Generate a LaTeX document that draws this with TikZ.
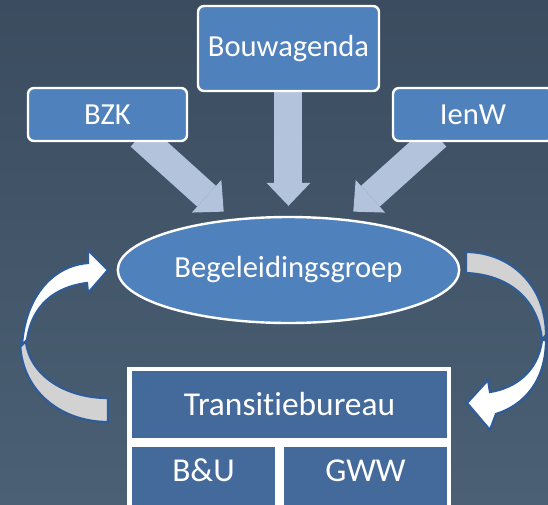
\documentclass[tikz,border=0pt]{standalone}
\usepackage{fontspec}
\setmainfont{Carlito}[Ligatures = NoCommon]
\usetikzlibrary{shapes.geometric, arrows.meta, backgrounds, calc}

\definecolor{boxblue}{HTML}{4F81BD}
\definecolor{darkblue}{HTML}{44699B}
\definecolor{arrowgrey}{HTML}{B4C3DC}
\definecolor{rimblue}{HTML}{2F5C96}
\definecolor{tailgrey}{HTML}{D2D2D2}
\definecolor{bgtop}{HTML}{3B4C5F}
\definecolor{bgbottom}{HTML}{4B6075}

\begin{document}
\begin{tikzpicture}
  [
    x = 0.5pt, y = -0.5pt,  % one unit is one pixel, y downwards
    every node/.style = {text = white, font = \fontsize{15.3}{18}\selectfont},
    topbox/.style = {draw = white, line width = 1.2pt, rounded corners = 3pt,
      fill = boxblue, minimum height = 26.5pt},
    lowbox/.style = {fill = darkblue, anchor = north, minimum height = 36pt,
      text height = 11pt, text depth = 13.25pt, font = \fontsize{16.7}{20}\selectfont},
    blockarrow/.style = {draw = arrowgrey, line width = 14pt,
      -{Triangle[width = 22pt, length = 11.5pt, line width = 0pt]}},
    tailpart/.style = {fill = tailgrey, draw = rimblue, line width = 1.1pt},
    headpart/.style = {fill = white, draw = rimblue, line width = 1.1pt}
  ]
  \useasboundingbox (0,0) rectangle (548,505);
  \clip (0,0) rectangle (548,505);

  \node[topbox, minimum width = 90.5pt, minimum height = 42.5pt] (bouw) at (288.5,48.5) {Bouwagenda};
  \node[topbox, minimum width = 79.5pt] (bzk) at (107.5,114.5) {BZK};
  \node[topbox, minimum width = 80pt] (ienw) at (473,114.5) {IenW};
  \node[ellipse, draw = white, line width = 1.2pt, fill = boxblue,
    minimum width = 169.5pt, minimum height = 53pt] (begel) at (288.5,270) {Begeleidingsgroep};

  \node[fill = white, anchor = north west, minimum width = 162pt, minimum height = 80pt] (tbframe) at (127,367) {};
  \node[fill = darkblue, minimum width = 157.5pt, minimum height = 33.5pt,
    font = \fontsize{16.7}{20}\selectfont] (trans) at (289.5,404.5) {Transitiebureau};
  \node[lowbox, minimum width = 71.5pt] (bu) at (203.5,447) {B\&U};
  \node[lowbox, minimum width = 81.5pt] (gww) at (365.5,447) {GWW};

  \begin{scope}[on background layer]
    \shade[top color = bgtop, bottom color = bgbottom] (0,0) rectangle (548,505);
    \draw[blockarrow, shorten >= 5pt] (bouw) -- (begel);
    \draw[blockarrow, shorten >= 5.4pt] ($(bzk.south)+(32.5,-6)$) -- (begel);
    \draw[blockarrow, shorten >= 5.4pt] ($(ienw.south)+(-36,-6)$) -- (begel);
  \end{scope}

  % cycle arrows
  \filldraw[tailpart] (108,398) -- (108,422) .. controls (60,422) and (20,390) .. (20,340)
    -- (26,342) .. controls (30,375) and (65,398) .. (108,398) -- cycle;
  \filldraw[headpart] (22,345) .. controls (25,300) and (50,266) .. (88,263) -- (88,250) -- (108,270)
    -- (88,293) -- (87,283) .. controls (55,287) and (32,305) .. (27,340) -- cycle;
  \filldraw[tailpart] (466,252) .. controls (510,252) and (546,285) .. (546,335)
    -- (542,340) .. controls (538,300) and (510,275) .. (466,273) -- cycle;
  \filldraw[headpart] (546,340) .. controls (546,380) and (525,405) .. (496,414) -- (490,430) -- (467,403)
    -- (488,380) -- (490,392) .. controls (515,388) and (538,372) .. (542,340) -- cycle;
\end{tikzpicture}
\end{document}
